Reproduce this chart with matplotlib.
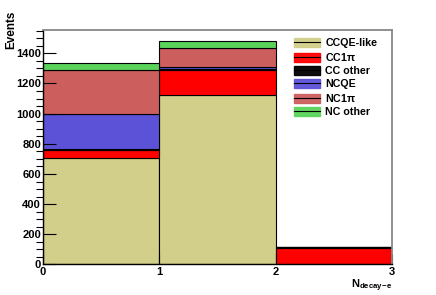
import numpy as np
import matplotlib
matplotlib.use("Agg")
import matplotlib.pyplot as plt
from matplotlib.patches import Patch
from matplotlib.lines import Line2D

plt.rcParams['font.family'] = ['Liberation Sans', 'DejaVu Sans']
plt.rcParams['mathtext.fontset'] = 'custom'
plt.rcParams['mathtext.rm'] = 'Liberation Sans:bold'
plt.rcParams['mathtext.bf'] = 'Liberation Sans:bold'
plt.rcParams['mathtext.it'] = 'Liberation Sans:bold'

# bin edges (N decay-e) and stacked components
bin_left = [0, 1, 2]
labels = ["CCQE-like", "CC1$\\pi$", "CC other", "NCQE", "NC1$\\pi$", "NC other"]
ccqe_like = [706, 1124, 0]
cc1pi = [53, 166, 107]
cc_other = [5, 6, 12]
ncqe = [236, 14, 0]
nc1pi = [287, 123, 0]
nc_other = [47, 46, 0]
series = [ccqe_like, cc1pi, cc_other, ncqe, nc1pi, nc_other]
colors = ["#d2cf8a", "#ff0000", "#000000", "#5b52d8", "#cd5e5e", "#5bd35b"]

fig = plt.figure(figsize=(4.36, 2.95), dpi=100)
ax = fig.add_axes([0.0986, 0.1034, 0.8004, 0.7946])

bottom = np.zeros(len(bin_left))
for vals, c in zip(series, colors):
    ax.bar(bin_left, vals, width=1.0, bottom=bottom, align='edge',
           color=c, edgecolor='black', linewidth=0.8)
    bottom += np.array(vals)

ax.set_xlim(0, 3)
ax.set_ylim(0, 1554)
ax.set_xticks([0, 1, 2, 3])
ax.set_yticks(np.arange(0, 1401, 200))
ax.set_yticks(np.arange(0, 1551, 50), minor=True)

ax.tick_params(axis='both', direction='in', labelsize=8, width=0.8)
ax.tick_params(axis='y', which='major', length=9, pad=1.5)
ax.tick_params(axis='y', which='minor', length=5, width=0.8)
ax.tick_params(axis='x', which='major', length=7, pad=2)
for lab in ax.get_xticklabels() + ax.get_yticklabels():
    lab.set_fontweight('bold')

for s in ['left', 'bottom']:
    ax.spines[s].set_color('black')
    ax.spines[s].set_linewidth(1.0)
for s in ['top', 'right']:
    ax.spines[s].set_color('#888888')
    ax.spines[s].set_linewidth(1.3)

# keep the y title just inside the left edge
ax.set_ylabel("Events", fontsize=8.5, fontweight='bold', rotation=90,
              va='top', ha='center')
ax.yaxis.set_label_coords(-0.107, 1.0)
ax.text(1.0, -0.055, r"N$_{\mathrm{decay\!-\!e}}$", transform=ax.transAxes,
        ha='right', va='top', fontsize=8, fontweight='bold')

handles = [(Patch(facecolor=c, edgecolor=c, alpha=0.95),
            Line2D([], [], color='black', linewidth=0.8)) for c in colors]
leg = fig.legend(handles, labels, loc='upper left',
                 bbox_to_anchor=(0.665, 0.886), frameon=False,
                 prop={'size': 7.7, 'weight': 'bold'},
                 handlelength=2.4, handleheight=0.95, handletextpad=0.5,
                 labelspacing=0.26, borderaxespad=0)

fig.savefig("out.png", dpi=100)
